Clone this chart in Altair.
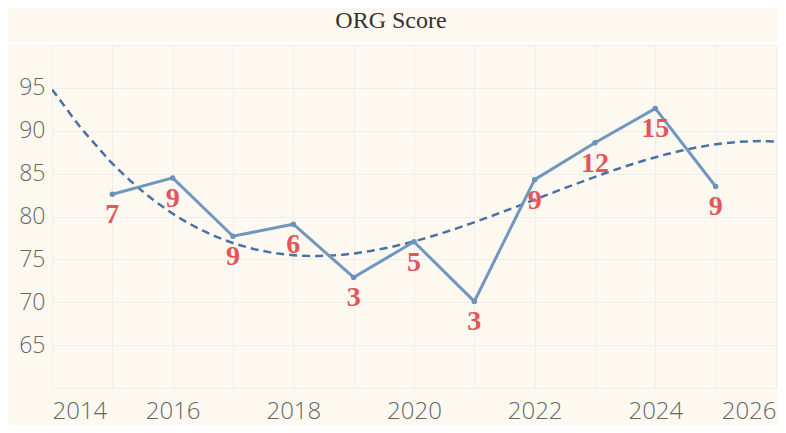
import altair as alt
import pandas as pd

years = [2015, 2016, 2017, 2018, 2019, 2020, 2021, 2022, 2023, 2024, 2025]
scores = [82.6, 84.5, 77.7, 79.1, 72.9, 77.05, 70.1, 84.3, 88.6, 92.6, 83.5]
labels = ["7", "9", "9", "6", "3", "5", "3", "9", "12", "15", "9"]
x_ticks = list(range(2014, 2027))
y_ticks = [60, 65, 70, 75, 80, 85, 90, 95, 100]

df = pd.DataFrame({"year": years, "score": scores, "label": labels})

W, H = 724, 343
GRID = "#eeeeee"
LABEL = "#666666"

x_enc = alt.X(
    "year:Q",
    scale=alt.Scale(domain=[2014, 2026], nice=False, zero=False),
    axis=alt.Axis(
        values=x_ticks, format="d",
        labelExpr="datum.value % 2 == 0 ? datum.label : ''",
        labelFlush=True, labelOverlap=False, grid=True, gridColor=GRID,
        ticks=False, domain=False, title=None,
        labelFontSize=24, labelColor=LABEL, labelFont="Open Sans",
        labelFontWeight=300, labelPadding=11,
    ),
)
y_enc = alt.Y(
    "score:Q",
    scale=alt.Scale(domain=[60, 100], nice=False, zero=False),
    axis=alt.Axis(
        values=y_ticks,
        labelExpr="(datum.value == 60 || datum.value == 100) ? '' : datum.label",
        grid=True, gridColor=GRID, ticks=False, domain=False, title=None,
        labelFontSize=23, labelColor=LABEL, labelFont="Open Sans",
        labelFontWeight=300, labelPadding=7, labelOverlap=False,
    ),
)

base = alt.Chart(df)

trend = base.transform_regression(
    "year", "score", method="poly", order=3, extent=[2014, 2026]
).mark_line(color="#4a71a6", strokeWidth=2.5, strokeDash=[8, 5], clip=True).encode(
    x=x_enc, y=y_enc
)

line = base.mark_line(color="#7097bf", strokeWidth=3).encode(x=x_enc, y=y_enc)
pts = base.mark_point(filled=True, size=30, color="#6b92bb", opacity=1).encode(x=x_enc, y=y_enc)
txt = base.mark_text(
    font="Liberation Serif", fontWeight="bold", fontSize=28,
    color="#e15759", baseline="middle", dy=21,
).encode(x=x_enc, y=y_enc, text="label:N")

sep = base.mark_rule(color="#ffffff", strokeWidth=2).encode(
    x=alt.value(-44), x2=alt.value(W + 2), y=alt.value(-1.5)
)

chart = alt.layer(trend, line, pts, txt, sep).properties(
    width=W, height=H,
    title=alt.TitleParams(
        "ORG Score", font="Liberation Serif", fontSize=24, fontWeight="normal",
        color="#333333", anchor="middle", dx=-23, offset=1,
    ),
    autosize=alt.AutoSizeParams(type="none"),
    padding={"left": 44, "top": 37, "right": 2, "bottom": 37},
).configure(background="#fdf9f1").configure_view(stroke=None)

chart.save("out.html", embed_options={"renderer": "svg", "actions": False})
